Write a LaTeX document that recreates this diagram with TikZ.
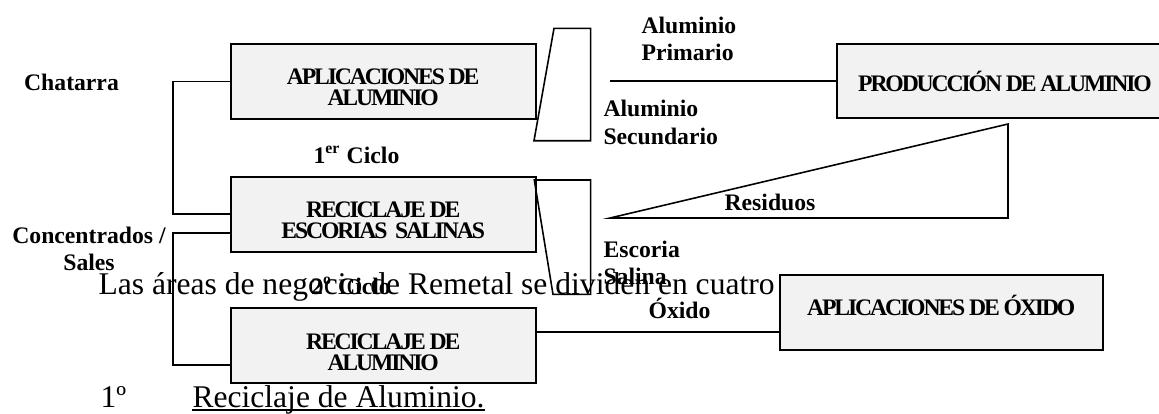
\documentclass[tikz,border=0pt]{standalone}
\usepackage{fontspec}
\setmainfont{Liberation Serif}
\newfontfamily\boxfont{Liberation Serif}[LetterSpace=-9]
\definecolor{boxgray}{HTML}{F2F2F2}
\begin{document}
\begin{tikzpicture}[x=0.38pt, y=-0.38pt,
        area/.style={draw, line width=0.75pt, fill=boxgray, align=center, inner sep=0pt,
            minimum width=115.9pt, minimum height=28.5pt,
            font=\boxfont\bfseries\fontsize{9}{8}\selectfont},
        pair/.style={area, text height=18.6pt, text depth=0pt},
        tag/.style={font=\bfseries\fontsize{9}{10.5}\selectfont, inner sep=0pt},
        body/.style={font=\fontsize{12}{14}\selectfont, inner sep=0pt, anchor=base west},
        link/.style={line width=0.75pt},
        fold/.style={line width=0.6pt}]
            \useasboundingbox (0,0) rectangle (1159,413);

            % Nodes
            \node[pair] (apal) at (383.2,81.5) {APLICACIONES DE\\ALUMINIO};
            \node[pair] (recesc) at (383.2,214.2) {RECICLAJE DE\\ESCORIAS\ \ SALINAS};
            \node[pair] (recal) at (383.2,345.8) {RECICLAJE DE\\ALUMINIO};
            \node[area, minimum width=127.7pt, minimum height=28.1pt] (prod) at (1005,81) {PRODUCCI\'ON DE ALUMINIO};
            \node[area, minimum width=122.9pt, text depth=5.5pt] (apox) at (941.3,312.5) {APLICACIONES DE \'OXIDO};

            % Labels
            \node[tag] (chat) at (71.5,82.5) {Chatarra};
            \node[tag, align=center] (conc) at (89,249) {Concentrados /\\Sales};
            \node[tag] (ciclo1) at (356.5,155) {1\textsuperscript{er} Ciclo};
            \node[tag] (ciclo2) at (351,286) {2\textsuperscript{o} Ciclo};
            \node[tag, align=left, anchor=west] (aluprim) at (641,39) {Aluminio\\Primario};
            \node[tag, align=left, anchor=west] (alusec) at (603,122.5) {Aluminio\\Secundario};
            \node[tag] (resid) at (770,202) {Residuos};
            \node[tag, align=left, anchor=west] (escoria) at (603,263) {Escoria\\Salina};
            \node[tag] (oxido) at (679.5,308) {\'Oxido};

            % Text
            \node[body] (parr) at (98,294) {Las áreas de negocio de Remetal se dividen en cuatro};
            \node[body] (num) at (100,407) {1º};
            \node[body] (item) at (192,407) {Reciclaje de Aluminio.};

            % Connections
            \coordinate (alufree) at (610,81);
            \draw[link] (apal.west) -- ++(-56.7,0) |- (recesc.west);
            \draw[link] ([yshift=-7.3pt]recesc.west) -- ++(-56.7,0) |- ([yshift=-7.3pt]recal.west);
            \draw[link] (alufree) -- (prod.west);
            \draw[link] ([yshift=5.4pt]recal.east) -- ([yshift=5.4pt]recal.east -| apox.west);
            \draw[line width=0.6pt] ([yshift=-1.2pt]item.base west) -- ([yshift=-1.2pt]item.base east);

            % Folds
            \draw[fold] (554,28.3) -- (590.7,28.3) -- (590.7,140.7) -- (534,140.7) -- cycle;
            \draw[fold] (534.3,180) -- (590.7,180) -- (590.7,294.3) -- (553,294.3) -- cycle;
            \draw[fold] (610,218) -- (1008,124) -- (1008,218) -- cycle;
        \end{tikzpicture}
\end{document}
